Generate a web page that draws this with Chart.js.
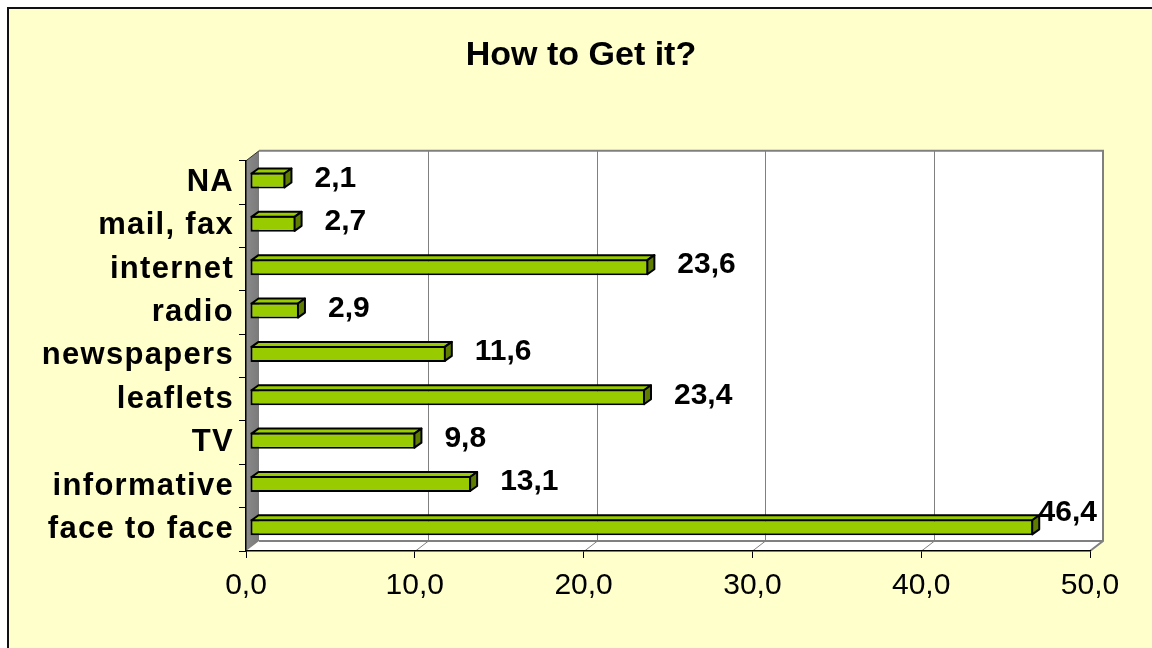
<!DOCTYPE html>
<html>
<head>
<meta charset="utf-8">
<script src="https://cdn.jsdelivr.net/npm/chart.js@4/dist/chart.umd.min.js"></script>
<style>
  html, body { margin: 0; padding: 0; background: #fff; }
  #wrap { width: 1152px; height: 648px; }
</style>
</head>
<body>
<div id="wrap"><canvas id="myChart" width="1152" height="648"></canvas></div>
<script>
var categories = ['NA', 'mail, fax', 'internet', 'radio', 'newspapers', 'leaflets', 'TV', 'informative', 'face to face'];
var shares = [2.1, 2.7, 23.6, 2.9, 11.6, 23.4, 9.8, 13.1, 46.4];
var axisMin = 0, axisMax = 50, axisStep = 10;

var FONT = "Arial, 'Liberation Sans', sans-serif";
var DEPTH_X = 13, DEPTH_Y = 10;       // wall depth
var BAR_DX = 7, BAR_DY = 5;           // bar depth
var BAR_SHIFT_X = 4, BAR_SHIFT_Y = -2;

function comma(v) {
    return Number(v).toFixed(1).replace('.', ',');
}

// background, border, 3D walls and floor
var walls = {
    id: 'walls',
    afterLayout: function (chart) {
        // title is centred on the whole frame, a bit right of the canvas middle
        if (chart.titleBlock) {
            chart.titleBlock.left = 10;
            chart.titleBlock.right = 1152;
        }
        // category labels are drawn slightly letter-spaced
        var ys = chart.scales.y;
        if (!ys._spaced) {
            var orig = ys.drawLabels;
            ys.drawLabels = function (area) {
                var c = this.ctx;
                c.save();
                c.letterSpacing = '1.3px';
                orig.call(this, area);
                c.restore();
            };
            ys._spaced = true;
        }
    },
    beforeDraw: function (chart) {
        var ctx = chart.ctx, a = chart.chartArea, xs = chart.scales.x;
        ctx.save();
        ctx.fillStyle = '#ffffff';
        ctx.fillRect(0, 0, chart.width, chart.height);
        ctx.fillStyle = '#FFFFCC';
        ctx.fillRect(8, 8, chart.width, chart.height);
        ctx.strokeStyle = '#111';
        ctx.lineWidth = 2;
        ctx.beginPath();
        ctx.moveTo(8, chart.height); ctx.lineTo(8, 8); ctx.lineTo(chart.width, 8);
        ctx.stroke();

        var L = a.left, R = a.right, T = a.top, B = a.bottom;
        // back wall
        ctx.fillStyle = '#ffffff';
        ctx.fillRect(L + DEPTH_X, T - DEPTH_Y, R - L, B - T);
        // floor
        ctx.beginPath();
        ctx.moveTo(L, B); ctx.lineTo(R, B); ctx.lineTo(R + DEPTH_X, B - DEPTH_Y); ctx.lineTo(L + DEPTH_X, B - DEPTH_Y);
        ctx.closePath();
        ctx.fill();
        // gridlines on back wall and floor
        ctx.strokeStyle = '#808080';
        ctx.lineWidth = 1;
        for (var v = axisMin + axisStep; v < axisMax; v += axisStep) {
            var px = Math.round(xs.getPixelForValue(v)) + 0.5;
            ctx.beginPath();
            ctx.moveTo(px, B);
            ctx.lineTo(px + DEPTH_X, B - DEPTH_Y);
            ctx.lineTo(px + DEPTH_X, T - DEPTH_Y);
            ctx.stroke();
        }
        // left wall
        var g = ctx.createLinearGradient(L, 0, L + DEPTH_X, 0);
        g.addColorStop(0, '#8a8a8a');
        g.addColorStop(1, '#7a7a7a');
        ctx.fillStyle = g;
        ctx.beginPath();
        ctx.moveTo(L, T); ctx.lineTo(L + DEPTH_X, T - DEPTH_Y); ctx.lineTo(L + DEPTH_X, B - DEPTH_Y); ctx.lineTo(L, B);
        ctx.closePath();
        ctx.fill();
        // wall edges
        ctx.strokeStyle = '#808080';
        ctx.lineWidth = 2;
        ctx.beginPath();
        ctx.moveTo(L + DEPTH_X, T - DEPTH_Y);
        ctx.lineTo(R + DEPTH_X, T - DEPTH_Y);
        ctx.lineTo(R + DEPTH_X, B - DEPTH_Y);
        ctx.lineTo(R, B);
        ctx.moveTo(L + DEPTH_X, B - DEPTH_Y);
        ctx.lineTo(R + DEPTH_X, B - DEPTH_Y);
        ctx.stroke();
        ctx.strokeStyle = '#333';
        ctx.lineWidth = 1;
        ctx.beginPath();
        ctx.moveTo(L, T); ctx.lineTo(L + DEPTH_X, T - DEPTH_Y);
        ctx.stroke();
        ctx.restore();
    },
    beforeDatasetsDraw: function (chart) {
        chart.ctx.save();
        chart.ctx.translate(BAR_SHIFT_X, BAR_SHIFT_Y);
    },
    afterDatasetsDraw: function (chart) {
        var ctx = chart.ctx;
        var bars = chart.getDatasetMeta(0).data;
        ctx.lineWidth = 2;
        ctx.strokeStyle = '#000';
        ctx.lineJoin = 'round';
        bars.forEach(function (bar) {
            var p = bar.getProps(['x', 'y', 'base', 'height'], true);
            var top = p.y - p.height / 2 + 1, bot = p.y + p.height / 2 - 1;
            // top face
            ctx.fillStyle = '#99CC00';
            ctx.beginPath();
            ctx.moveTo(p.base + 1, top);
            ctx.lineTo(p.base + 1 + BAR_DX, top - BAR_DY);
            ctx.lineTo(p.x - 1 + BAR_DX, top - BAR_DY);
            ctx.lineTo(p.x - 1, top);
            ctx.closePath();
            ctx.fill(); ctx.stroke();
            // side face
            ctx.fillStyle = '#5E7D00';
            ctx.beginPath();
            ctx.moveTo(p.x - 1, top);
            ctx.lineTo(p.x - 1 + BAR_DX, top - BAR_DY);
            ctx.lineTo(p.x - 1 + BAR_DX, bot - BAR_DY);
            ctx.lineTo(p.x - 1, bot);
            ctx.closePath();
            ctx.fill(); ctx.stroke();
        });
        ctx.restore();

        // value labels
        var a = chart.chartArea;
        ctx.save();
        ctx.font = 'bold 30px ' + FONT;
        ctx.fillStyle = '#000';
        ctx.textBaseline = 'middle';
        ctx.textAlign = 'left';
        bars.forEach(function (bar, i) {
            var p = bar.getProps(['x', 'y'], true);
            var txt = comma(shares[i]);
            var w = ctx.measureText(txt).width;
            var lx = p.x + 33, ly = p.y - 4;
            if (lx + w > a.right + 7) {
                lx = a.right + 7 - w;
                ly = p.y - 17;
            }
            ctx.fillText(txt, lx, ly);
        });
        ctx.restore();
    }
};

var ctx = document.getElementById('myChart').getContext('2d');
var chart = new Chart(ctx, {
    type: 'bar',
    data: {
        labels: categories,
        datasets: [{
            data: shares,
            backgroundColor: '#99CC00',
            borderColor: '#000',
            borderWidth: 2,
            borderSkipped: false,
            categoryPercentage: 1,
            barPercentage: 0.37,
            clip: false
        }]
    },
    options: {
        indexAxis: 'y',
        responsive: false,
        animation: false,
        layout: { padding: { left: 0, right: 62, top: 0, bottom: 0 } },
        plugins: {
            legend: { display: false },
            tooltip: { enabled: false },
            title: {
                display: true,
                text: 'How to Get it?',
                color: '#000',
                font: { family: FONT, size: 34, weight: 'bold' },
                padding: { top: 35, bottom: 85 }
            }
        },
        scales: {
            x: {
                min: axisMin,
                max: axisMax,
                ticks: {
                    stepSize: axisStep,
                    color: '#000',
                    font: { family: FONT, size: 30 },
                    padding: 10,
                    maxRotation: 0,
                    callback: function (v) { return comma(v); }
                },
                grid: { drawOnChartArea: false, tickLength: 7, color: '#000', lineWidth: 1 },
                border: { display: true, color: '#000', width: 1.5 },
                afterFit: function (s) { s.height = 97; }
            },
            y: {
                ticks: {
                    color: '#000',
                    font: { family: FONT, size: 31, weight: 'bold' },
                    padding: 5
                },
                grid: { drawOnChartArea: false, tickLength: 7, color: '#000', lineWidth: 1 },
                border: { display: true, color: '#000', width: 1.5 },
                afterFit: function (s) { s.width = 246; }
            }
        }
    },
    plugins: [walls]
});
</script>
</body>
</html>
